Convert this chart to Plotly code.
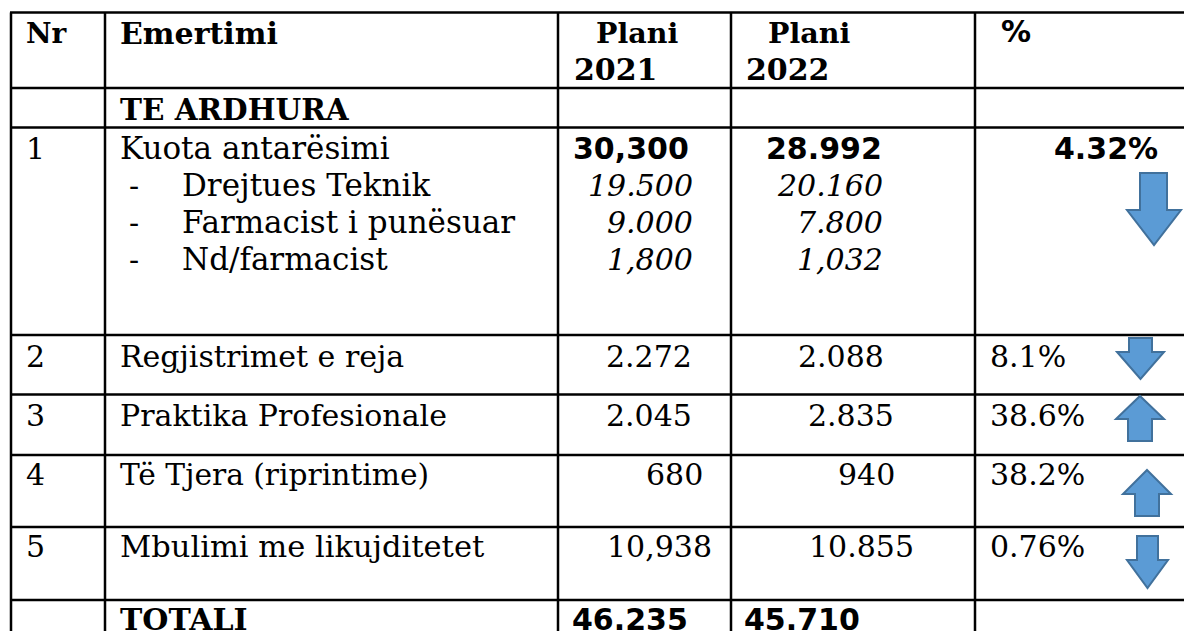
import plotly.graph_objects as go

# ---------- table content ----------
header_nr = "Nr"
header_name = "Emertimi"
header_plan = "Plani"
header_years = ["2021", "2022"]
header_pct = "%"
section = "TE ARDHURA"
total_label = "TOTALI"
total_values = ["46.235", "45.710"]

row_numbers = ["1", "2", "3", "4", "5"]
row_names = ["Kuota antarësimi", "Regjistrimet e reja", "Praktika Profesionale",
             "Të Tjera (riprintime)", "Mbulimi me likujditetet"]
plan_2021 = ["30,300", "2.272", "2.045", "680", "10,938"]
plan_2022 = ["28.992", "2.088", "2.835", "940", "10.855"]
percent = ["4.32%", "8.1%", "38.6%", "38.2%", "0.76%"]

sub_names = ["Drejtues Teknik", "Farmacist i punësuar", "Nd/farmacist"]
sub_2021 = ["19.500", "9.000", "1,800"]
sub_2022 = ["20.160", "7.800", "1,032"]

# arrow directions per row (+1 up, -1 down)
arrow_dirs = [-1, -1, 1, 1, -1]

# ---------- layout geometry (pixels) ----------
W, H = 1184, 631
hlines = [12.5, 88, 127.5, 335, 394.5, 455, 527, 600]
vlines = [11, 105, 558, 731, 975]
row_y = [148, 356, 415, 474, 546]
sub_y = [185, 222, 259]
hdr_y1, hdr_y2, sec_y, tot_y = 33, 69, 109, 619
a21 = [689, 692, 692, 703, 712]
a22 = [882, 884, 894, 895, 914]
s21 = [693, 693, 693]
s22 = [883, 883, 883]
name_sizes = [31, 30, 30, 29.7, 30.5]
# arrow boxes: x0, x1, shaft0, shaft1, ytop, yneck, ybottom
arrow_boxes = [
    (1127, 1181, 1140, 1167, 173, 210, 245),
    (1117, 1164, 1129, 1152, 338, 352, 379),
    (1116, 1164, 1128, 1152, 396, 419, 441),
    (1123, 1171, 1135, 1159, 470, 494, 516),
    (1127, 1168, 1137, 1158, 536, 560, 588),
]

SERIF = "DejaVu Serif"
SANS = "DejaVu Sans"
SIZE = 30
RULE = 2.5


def txt(fig, x, y, s, anchor="left", size=SIZE, family=SERIF, bold=False, italic=False):
    fig.add_annotation(
        x=x, y=y, text=f"<b>{s}</b>" if bold else (f"<i>{s}</i>" if italic else s),
        xref="x", yref="y", xanchor=anchor, yanchor="middle", showarrow=False,
        align=anchor, font=dict(family=family, size=size, color="#000000"),
        borderpad=0, borderwidth=0,
    )


fig = go.Figure()
fig.add_trace(go.Scatter(x=[0, W], y=[0, H], mode="markers",
                         marker=dict(opacity=0), hoverinfo="skip", showlegend=False))

for y in hlines:
    fig.add_shape(type="line", x0=vlines[0] - 1, x1=W, y0=y, y1=y,
                  line=dict(color="#000000", width=RULE))
for x in vlines:
    fig.add_shape(type="line", x0=x, x1=x, y0=hlines[0], y1=H,
                  line=dict(color="#000000", width=RULE))

txt(fig, 26, hdr_y1, header_nr, bold=True, size=28)
txt(fig, 120, hdr_y1, header_name, bold=True)
txt(fig, 596, hdr_y1, header_plan, bold=True, size=28.5)
txt(fig, 768, hdr_y1, header_plan, bold=True, size=28.5)
txt(fig, 574, hdr_y2, header_years[0], bold=True)
txt(fig, 746, hdr_y2, header_years[1], bold=True)
txt(fig, 1001, 31, header_pct, family=SANS, bold=True)
txt(fig, 120, sec_y, section, bold=True, size=29.5)

for i in range(5):
    txt(fig, 26, row_y[i], row_numbers[i])
    txt(fig, 120, row_y[i], row_names[i], size=name_sizes[i])
    b = i == 0
    txt(fig, a21[i], row_y[i], plan_2021[i], anchor="right", family=SANS if b else SERIF, bold=b)
    txt(fig, a22[i], row_y[i], plan_2022[i], anchor="right", family=SANS if b else SERIF, bold=b)

txt(fig, 1158, row_y[0], percent[0], anchor="right", family=SANS, bold=True)
for i in range(1, 5):
    txt(fig, 990, row_y[i], percent[i])

for i in range(3):
    txt(fig, 129, sub_y[i], "-")
    txt(fig, 182, sub_y[i], sub_names[i], size=31)
    txt(fig, s21[i], sub_y[i], sub_2021[i], anchor="right", italic=True)
    txt(fig, s22[i], sub_y[i], sub_2022[i], anchor="right", italic=True)

txt(fig, 120, tot_y, total_label, bold=True)
txt(fig, 688, tot_y, total_values[0], anchor="right", family=SANS, bold=True)
txt(fig, 860, tot_y, total_values[1], anchor="right", family=SANS, bold=True)

for d, (x0, x1, s0, s1, yt, yn, yb) in zip(arrow_dirs, arrow_boxes):
    xm = (x0 + x1) / 2
    if d < 0:
        p = f"M{s0},{yt} L{s1},{yt} L{s1},{yn} L{x1},{yn} L{xm},{yb} L{x0},{yn} L{s0},{yn} Z"
    else:
        p = f"M{xm},{yt} L{x1},{yn} L{s1},{yn} L{s1},{yb} L{s0},{yb} L{s0},{yn} L{x0},{yn} Z"
    fig.add_shape(type="path", path=p, fillcolor="#5B9BD5",
                  line=dict(color="#41719C", width=2))

fig.update_xaxes(range=[0, W], visible=False, fixedrange=True)
fig.update_yaxes(range=[H, 0], visible=False, fixedrange=True)
fig.update_layout(width=W, height=H, margin=dict(l=0, r=0, t=0, b=0),
                  plot_bgcolor="#FFFFFF", paper_bgcolor="#FFFFFF", showlegend=False)
fig.write_html("out.html", config=dict(displayModeBar=False),
               post_script="document.body.style.margin='0';document.documentElement.style.overflow='hidden';")
